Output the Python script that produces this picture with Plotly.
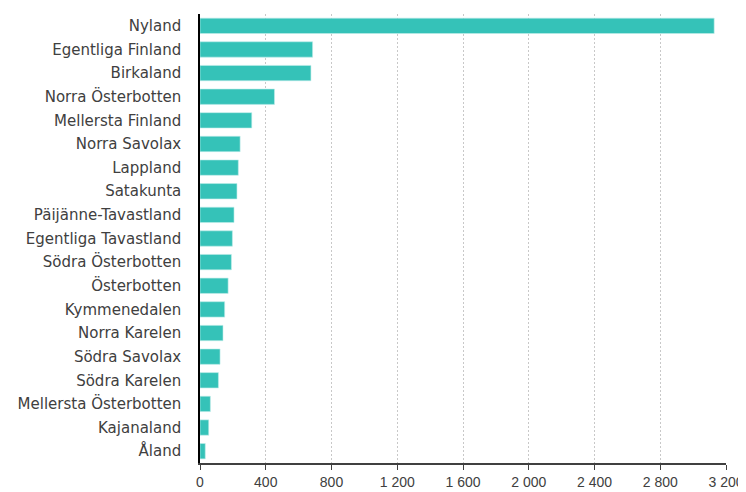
import plotly.graph_objects as go

regions = ["Nyland", "Egentliga Finland", "Birkaland", "Norra Österbotten", "Mellersta Finland",
           "Norra Savolax", "Lappland", "Satakunta", "Päijänne-Tavastland", "Egentliga Tavastland",
           "Södra Österbotten", "Österbotten", "Kymmenedalen", "Norra Karelen", "Södra Savolax",
           "Södra Karelen", "Mellersta Österbotten", "Kajanaland", "Åland"]
values = [3128, 685, 675, 453, 315, 244, 233, 225, 207, 197, 191, 171, 150, 140, 122, 112, 63, 53, 32]
tick_vals = [0, 400, 800, 1200, 1600, 2000, 2400, 2800, 3200]
tick_text = ["0", "400", "800", "1 200", "1 600", "2 000", "2 400", "2 800", "3 200"]

# page body has an 8px default margin, so the figure is sized/offset to compensate
fig = go.Figure(go.Bar(
    x=values, y=regions, orientation="h",
    marker=dict(color="#35C2B8", line=dict(width=0.6, color="#BFEDEA")),
))
fig.update_layout(
    width=738, height=484,
    margin=dict(l=192, r=20, t=6, b=29),
    paper_bgcolor="white", plot_bgcolor="white",
    font=dict(family="DejaVu Sans, Liberation Sans, sans-serif", size=15, color="#404040"),
    bargap=0.35,
    showlegend=False,
)
fig.update_xaxes(
    range=[0, 3200], tickvals=tick_vals, ticktext=tick_text,
    showgrid=True, gridcolor="#C8C8C8", griddash="2px,2px", gridwidth=1,
    showline=True, linecolor="#404040", linewidth=1.5,
    ticks="outside", ticklen=5, tickcolor="#404040", zeroline=False,
    tickfont=dict(family="Liberation Sans, Arial, sans-serif", size=14), automargin=False,
)
fig.update_yaxes(
    autorange="reversed", showgrid=False,
    showline=True, linecolor="#000000", linewidth=1.5,
    ticks="", ticklabelstandoff=14, automargin=False,
)
fig.write_html("out.html")
